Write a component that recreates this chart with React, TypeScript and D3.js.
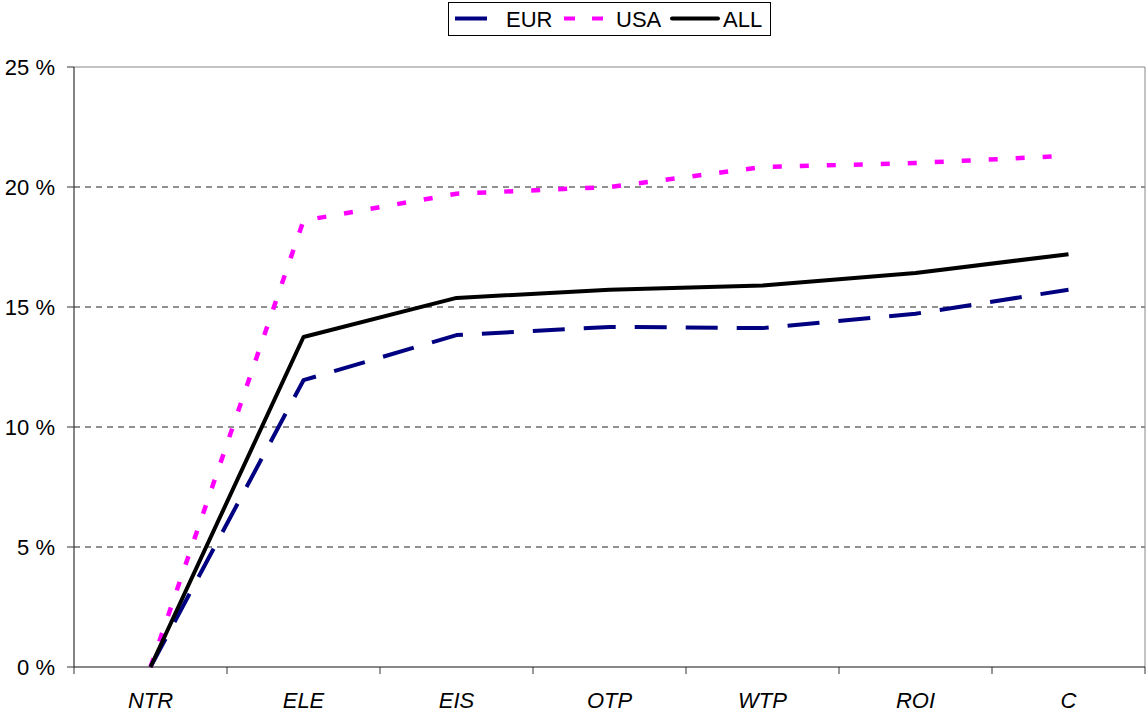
import React from "react";
import * as d3 from "d3";

const categories = ["NTR", "ELE", "EIS", "OTP", "WTP", "ROI", "C"];
const eurValues = [0, 11.95, 13.83, 14.17, 14.12, 14.72, 15.72];
const usaValues = [0, 18.6, 19.72, 20.0, 20.83, 21.0, 21.3];
const allValues = [0, 13.75, 15.38, 15.72, 15.9, 16.42, 17.2];
const yTicks = [0, 5, 10, 15, 20, 25];

const W = 1148, H = 715;
const M = { left: 74, right: 1145, top: 67, bottom: 667 };
const FONT = "'Liberation Sans', Arial, sans-serif";

export default function App() {
  const x = d3.scaleBand().domain(categories).range([M.left, M.right]);
  const y = d3.scaleLinear().domain([0, 25]).range([M.bottom, M.top]);
  const cx = (c: string) => (x(c) as number) + x.bandwidth() / 2;
  const line = d3.line<number>().x((_, i) => cx(categories[i])).y((d) => y(d));

  const series = [
    { name: "EUR", values: eurValues, color: "#000080", dash: "32,19", width: 4 },
    { name: "USA", values: usaValues, color: "#FF00FF", dash: "9,18", width: 4.5 },
    { name: "ALL", values: allValues, color: "#000000", dash: "", width: 4 },
  ];

  const bounds = [...categories.map((c) => x(c) as number), M.right];

  return (
    <svg width={W} height={H} style={{ position: "absolute", left: 0, top: 0, background: "#fff" }}>
      {yTicks.filter((t) => t > 0 && t < 25).map((t) => (
        <line key={t} x1={M.left} x2={M.right} y1={y(t)} y2={y(t)} stroke="#222" strokeWidth={1} strokeDasharray="6,5" />
      ))}
      <line x1={M.left} x2={M.right} y1={M.top} y2={M.top} stroke="#888" strokeWidth={1} />
      <line x1={M.right} x2={M.right} y1={M.top} y2={M.bottom} stroke="#888" strokeWidth={1} />
      <line x1={M.left} x2={M.left} y1={M.top} y2={M.bottom} stroke="#333" strokeWidth={1.2} />
      <line x1={M.left} x2={M.right} y1={M.bottom} y2={M.bottom} stroke="#111" strokeWidth={1.2} />
      {yTicks.map((t) => (
        <g key={t}>
          <line x1={M.left - 7} x2={M.left} y1={y(t)} y2={y(t)} stroke="#333" strokeWidth={1} />
          <text x={55} y={y(t)} dy="0.36em" textAnchor="end" fontFamily={FONT} fontSize={22} fill="#000">
            {`${t} %`}
          </text>
        </g>
      ))}
      {bounds.map((b, i) => (
        <line key={i} x1={b} x2={b} y1={M.bottom} y2={M.bottom + 7} stroke="#333" strokeWidth={1} />
      ))}
      {categories.map((c) => (
        <text key={c} x={cx(c)} y={708} textAnchor="middle" fontFamily={FONT} fontSize={22} fontStyle="italic" fill="#000">
          {c}
        </text>
      ))}
      {series.map((s) => (
        <path key={s.name} d={line(s.values) || ""} fill="none" stroke={s.color} strokeWidth={s.width}
          strokeDasharray={s.dash || undefined} strokeLinejoin="round" />
      ))}
      <rect x={448.5} y={2.5} width={322} height={33} fill="#fff" stroke="#000" strokeWidth={1} />
      <line x1={455} x2={487} y1={18.5} y2={18.5} stroke="#000080" strokeWidth={4} />
      <text x={506} y={26.5} fontFamily={FONT} fontSize={22} fill="#000">EUR</text>
      <line x1={564} x2={603} y1={18.5} y2={18.5} stroke="#FF00FF" strokeWidth={4} strokeDasharray="11,17" />
      <text x={616} y={26.5} fontFamily={FONT} fontSize={22} fill="#000">USA</text>
      <line x1={672} x2={718} y1={18.5} y2={18.5} stroke="#000" strokeWidth={4} strokeLinecap="round" />
      <text x={723} y={26.5} fontFamily={FONT} fontSize={22} fill="#000">ALL</text>
    </svg>
  );
}
